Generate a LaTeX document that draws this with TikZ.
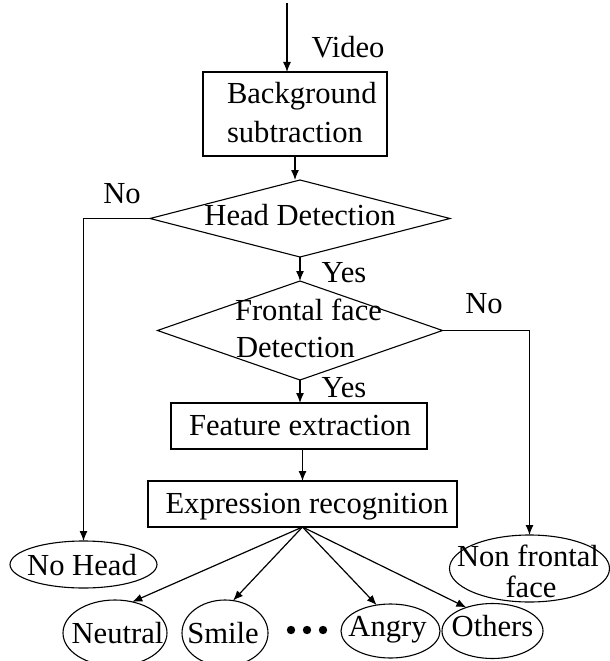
\documentclass[tikz,border=0pt]{standalone}
\usepackage{fontspec}
\setmainfont{Liberation Serif}
\usetikzlibrary{shapes.geometric,arrows.meta}
\begin{document}
\begin{tikzpicture}[x=1pt,y=-1pt,
  every node/.style={inner sep=0pt,outer sep=0pt},
  lbl/.style={font=\fontsize{30.6}{36}\selectfont,anchor=base},
  boxn/.style={draw,rectangle,line width=1.2pt},
  dian/.style={draw,diamond,line width=1.1pt},
  elln/.style={draw,ellipse,line width=1.1pt},
  arr/.style={line width=1.2pt,-{Latex[length=10pt,width=8pt]}},
  con/.style={line width=1.2pt}]
\useasboundingbox[fill=white] (0,0) rectangle (610,661);

% shapes
\coordinate (vtop) at (287,3);
\node[boxn,minimum width=184pt,minimum height=84pt] (bg) at (295,114) {};
\node[dian,minimum width=300pt,minimum height=77pt] (hd) at (300,218.5) {};
\node[dian,minimum width=285pt,minimum height=99pt] (ff) at (300,330.5) {};
\node[boxn,minimum width=256pt,minimum height=46pt] (fe) at (299,426) {};
\node[boxn,minimum width=309pt,minimum height=46pt] (er) at (302.5,504) {};
\node[elln,minimum width=147pt,minimum height=47pt] (nh) at (83.5,564.5) {};
\node[elln,minimum width=160pt,minimum height=67pt] (nf) at (529.5,568.5) {};
\node[elln,minimum width=104pt,minimum height=66pt] (neu) at (115,633) {};
\node[elln,minimum width=86pt,minimum height=66pt] (smi) at (225,633) {};
\node[elln,minimum width=99pt,minimum height=54pt] (ang) at (390.5,631) {};
\node[elln,minimum width=101pt,minimum height=55pt] (oth) at (492.5,631) {};

% texts
\node[lbl] (tvideo) at (348,58) {Video};
\node[lbl,anchor=base west] (tbg1) at (227,103) {Background};
\node[lbl,anchor=base west] (tbg2) at (227,142) {subtraction};
\node[lbl] (tno1) at (122,203) {No};
\node[lbl] (thd) at (300,225) {Head Detection};
\node[lbl] (tyes1) at (344,282) {Yes};
\node[lbl,anchor=base west] (tff1) at (235,320) {Frontal face};
\node[lbl,anchor=base west] (tff2) at (236,357) {Detection};
\node[lbl] (tno2) at (484,313) {No};
\node[lbl] (tyes2) at (344,397) {Yes};
\node[lbl] (tfe) at (300,435) {Feature extraction};
\node[lbl] (ter) at (307,513) {Expression recognition};
\node[lbl] (tnh) at (82,575) {No Head};
\node[lbl] (tnf1) at (528,566) {Non frontal};
\node[lbl] (tnf2) at (531,597) {face};
\node[lbl] (tneu) at (117.5,643) {Neutral};
\node[lbl] (tsmi) at (223,643) {Smile};
\node[lbl] (tang) at (387.5,636) {Angry};
\node[lbl] (toth) at (492.5,636) {Others};

% dots
\fill (291,630) circle (4.2pt);
\fill (307,630) circle (4.2pt);
\fill (323,630) circle (4.2pt);

% connectors
\draw[arr] (vtop) -- (vtop |- bg.north);
\draw[arr] (bg.south) -- (bg.south |- hd.north);
\draw[arr] (hd.south) -- (ff.north);
\draw[arr] (hd.west) -| (nh.north);
\draw[arr] (ff.east) -| (nf.north);
\draw[arr] (ff.south) -- (ff.south |- fe.north);
\draw[arr] (er.north |- fe.south) -- (er.north);
\draw[arr] (er.south) -- (neu.61);
\draw[arr] (er.south) -- (smi.76);
\draw[arr] (er.south) -- (ang.118);
\draw[arr] (er.south) -- (oth.138);
\end{tikzpicture}
\end{document}
